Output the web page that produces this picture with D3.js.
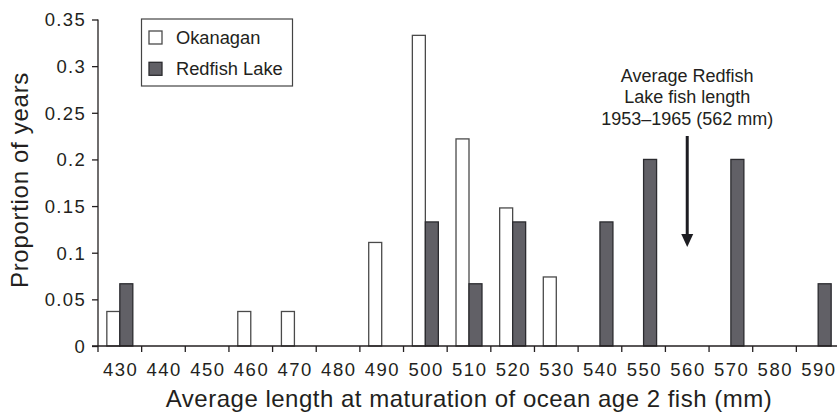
<!DOCTYPE html>
<html>
<head>
<meta charset="utf-8">
<script src="https://cdn.jsdelivr.net/npm/d3@7/dist/d3.min.js"></script>
<style>
  html, body { margin: 0; padding: 0; background: #fff; }
  svg { display: block; }
  text { font-family: "Liberation Sans", Arial, Helvetica, sans-serif; fill: #231f20; }
</style>
</head>
<body>
<svg id="chart" width="837" height="416"></svg>
<script>
// ---- data ----
const categories = ["430","440","450","460","470","480","490","500","510","520","530","540","550","560","570","580","590"];
const seriesNames = ["Okanagan", "Redfish Lake"];
const okanagan = [0.037, 0, 0, 0.037, 0.037, 0, 0.111, 0.333, 0.222, 0.148, 0.074, 0, 0, 0, 0, 0, 0];
const redfish  = [0.0667, 0, 0, 0, 0, 0, 0, 0.133, 0.0667, 0.133, 0, 0.133, 0.2, 0, 0.2, 0, 0.0667];
const yTicks = [0, 0.05, 0.1, 0.15, 0.2, 0.25, 0.3, 0.35];
const yTickLabels = ["0", "0.05", "0.1", "0.15", "0.2", "0.25", "0.3", "0.35"];
const arrowCategory = "560";
const annotationLines = ["Average Redfish", "Lake fish length", "1953\u20131965 (562 mm)"];
const xTitle = "Average length at maturation of ocean age 2 fish (mm)";
const yTitle = "Proportion of years";

// ---- layout ----
const svg = d3.select("#chart");
const mLeft = 98, mRight = 840, mTop = 19.5, mBottom = 346;
const colors = { "Okanagan": "#ffffff", "Redfish Lake": "#616066" };
const strokes = { "Okanagan": "#4a4a4a", "Redfish Lake": "#2b2b2f" };
const FONT = "'Liberation Sans', Arial, Helvetica, sans-serif";

const x = d3.scaleBand().domain(categories).range([mLeft, mRight]).padding(0);
const xs = d3.scaleBand().domain(seriesNames).range([0, x.bandwidth()]).paddingInner(0).paddingOuter(0.68);
const y = d3.scaleLinear().domain([0, 0.35]).range([mBottom, mTop]);

const rows = categories.map((c, i) => ({ cat: c, values: [
  { s: "Okanagan", v: okanagan[i] }, { s: "Redfish Lake", v: redfish[i] } ] }));

// bars
const g = svg.append("g");
rows.forEach(r => {
  r.values.filter(d => d.v > 0).forEach(d => {
    g.append("rect")
      .attr("x", x(r.cat) + xs(d.s))
      .attr("y", y(d.v))
      .attr("width", xs.bandwidth())
      .attr("height", y(0) - y(d.v))
      .attr("fill", colors[d.s])
      .attr("stroke", strokes[d.s])
      .attr("stroke-width", 1.3);
  });
});

// y axis
const yAxis = d3.axisLeft(y).tickValues(yTicks)
  .tickFormat((d, i) => yTickLabels[i]).tickSize(6).tickPadding(6);
const yg = svg.append("g").attr("transform", `translate(${mLeft},0)`).call(yAxis);
yg.select(".domain").attr("stroke", "#231f20").attr("stroke-width", 1.3).attr("d", `M0,${mTop}V${mBottom}`);
yg.selectAll(".tick line").attr("stroke", "#231f20").attr("stroke-width", 1.3);
yg.selectAll(".tick text").style("font-size", "18.5px").style("letter-spacing", "1.3px")
  .attr("fill", "#231f20").style("font-family", FONT).attr("dy", "0.35em");

// x axis (labels centered in bands, ticks on band boundaries)
const xAxis = d3.axisBottom(x).tickSize(0).tickPadding(17);
const xg = svg.append("g").attr("transform", `translate(0,${mBottom})`).call(xAxis);
xg.select(".domain").attr("stroke", "#231f20").attr("stroke-width", 1.3).attr("d", `M${mLeft - 6},0H${mRight}`);
xg.selectAll(".tick text").style("font-size", "18.5px").style("letter-spacing", "1.5px")
  .attr("dx", "0.75px").attr("fill", "#231f20").style("font-family", FONT);
xg.selectAll(".boundary").data(categories).enter().append("line")
  .attr("x1", d => x(d)).attr("x2", d => x(d))
  .attr("y1", 0).attr("y2", 6)
  .attr("stroke", "#231f20").attr("stroke-width", 1.3);

// axis titles
svg.append("text").attr("x", 469).attr("y", 407).attr("text-anchor", "middle")
  .style("font-size", "24px").style("letter-spacing", "0.5px").text(xTitle);
svg.append("text").attr("transform", `translate(28,180) rotate(-90)`)
  .attr("text-anchor", "middle").style("font-size", "24px").style("letter-spacing", "0.7px").text(yTitle);

// legend
const lg = svg.append("g");
lg.append("rect").attr("x", 141.5).attr("y", 19).attr("width", 151).attr("height", 67)
  .attr("fill", "#fff").attr("stroke", "#444").attr("stroke-width", 1.2);
seriesNames.forEach((s, i) => {
  const yy = 31 + i * 31.3;
  lg.append("rect").attr("x", 149).attr("y", yy).attr("width", 13).attr("height", 13)
    .attr("fill", colors[s]).attr("stroke", strokes[s]).attr("stroke-width", 1.3);
  lg.append("text").attr("x", 176).attr("y", yy + 13).style("font-size", "18.3px").text(s);
});

// annotation + arrow
const ax = x(arrowCategory) + x.bandwidth() / 2;
const ann = svg.append("g");
annotationLines.forEach((t, i) => {
  ann.append("text").attr("x", ax).attr("y", 81.7 + i * 21.7).attr("text-anchor", "middle")
    .style("font-size", "18px").text(t);
});
ann.append("line").attr("x1", ax).attr("x2", ax).attr("y1", 136).attr("y2", 236)
  .attr("stroke", "#1d1d22").attr("stroke-width", 3);
ann.append("path").attr("d", `M${ax - 6},234L${ax + 6},234L${ax},247Z`).attr("fill", "#1d1d22");
</script>
</body>
</html>
